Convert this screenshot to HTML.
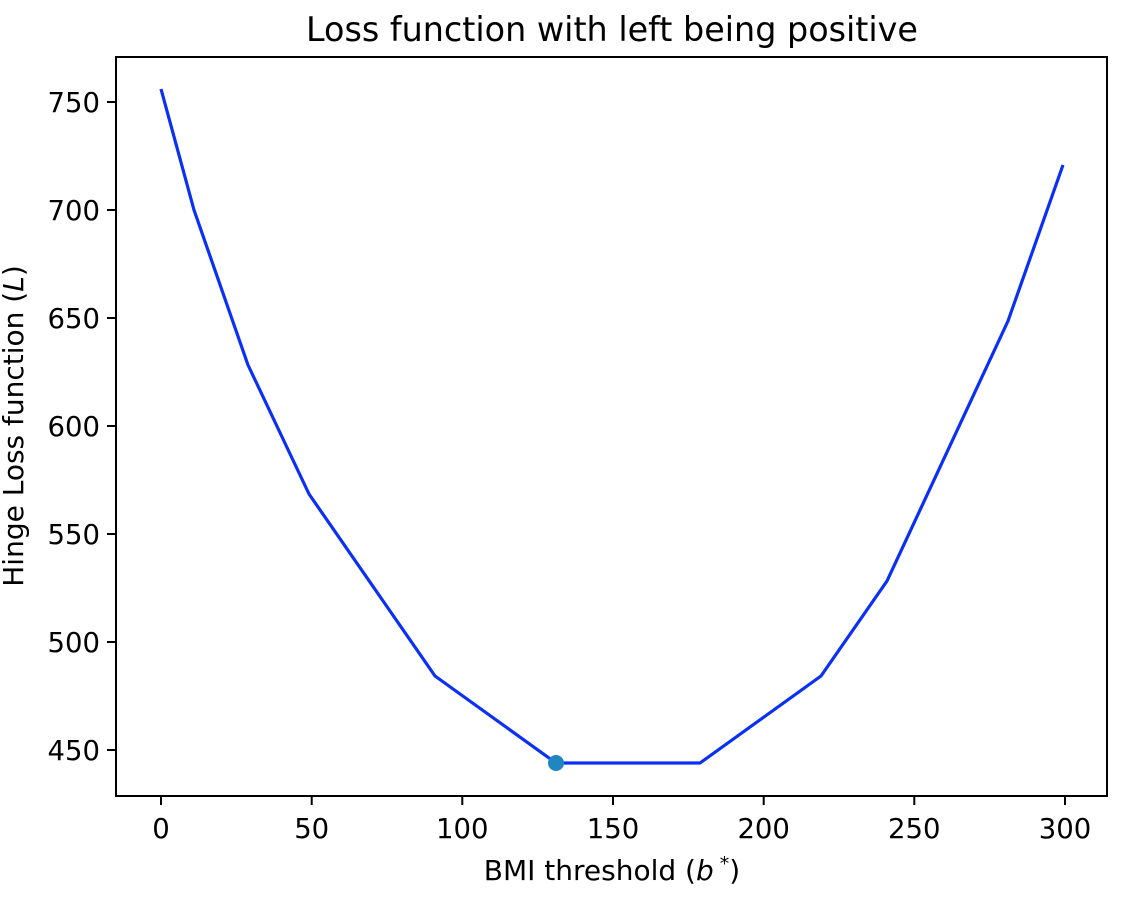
<!DOCTYPE html>
<html><head><meta charset="utf-8"><style>
html,body{margin:0;padding:0;background:#fff;}
svg text{font-family:"DejaVu Sans","Liberation Sans",sans-serif;fill:#000;}
</style></head><body>
<svg width="1132" height="892" xmlns="http://www.w3.org/2000/svg">
<rect width="1132" height="892" fill="#fff"/>
<text x="612" y="41" font-size="33.4" text-anchor="middle">Loss function with left being positive</text>
<polyline fill="none" stroke="#0a30f5" stroke-width="3.2" stroke-linejoin="round"
 points="161,89 194,210 248,365 309,494 435,676 556,763 700,763 821,676 887,581 1008,321 1063,165"/>
<circle cx="556" cy="763" r="8" fill="#1f86c2"/>
<rect x="116" y="57" width="991" height="739" fill="none" stroke="#000" stroke-width="2"/>
<g stroke="#000" stroke-width="2">
<line x1="161" y1="796" x2="161" y2="805"/><line x1="311.7" y1="796" x2="311.7" y2="805"/>
<line x1="462.3" y1="796" x2="462.3" y2="805"/><line x1="613" y1="796" x2="613" y2="805"/>
<line x1="763.7" y1="796" x2="763.7" y2="805"/><line x1="914.3" y1="796" x2="914.3" y2="805"/>
<line x1="1065" y1="796" x2="1065" y2="805"/>
<line x1="107" y1="102" x2="116" y2="102"/><line x1="107" y1="210" x2="116" y2="210"/>
<line x1="107" y1="318" x2="116" y2="318"/><line x1="107" y1="426" x2="116" y2="426"/>
<line x1="107" y1="534" x2="116" y2="534"/><line x1="107" y1="642" x2="116" y2="642"/>
<line x1="107" y1="750" x2="116" y2="750"/>
</g>
<g font-size="27.5" text-anchor="middle">
<text x="161" y="838">0</text><text x="311.7" y="838">50</text><text x="462.3" y="838">100</text>
<text x="613" y="838">150</text><text x="763.7" y="838">200</text><text x="914.3" y="838">250</text>
<text x="1065" y="838">300</text>
</g>
<g font-size="27.5" text-anchor="end">
<text x="100" y="112">750</text><text x="100" y="220">700</text><text x="100" y="328">650</text>
<text x="100" y="436">600</text><text x="100" y="544">550</text><text x="100" y="652">500</text>
<text x="100" y="760">450</text>
</g>
<text x="612" y="880" font-size="28" text-anchor="middle">BMI threshold (<tspan font-style="italic">b</tspan><tspan font-size="19" dy="-10"> *</tspan><tspan dy="10">)</tspan></text>
<text transform="translate(23,426) rotate(-90)" font-size="28" text-anchor="middle">Hinge Loss function (<tspan font-style="italic">L</tspan>)</text>
</svg>
</body></html>
